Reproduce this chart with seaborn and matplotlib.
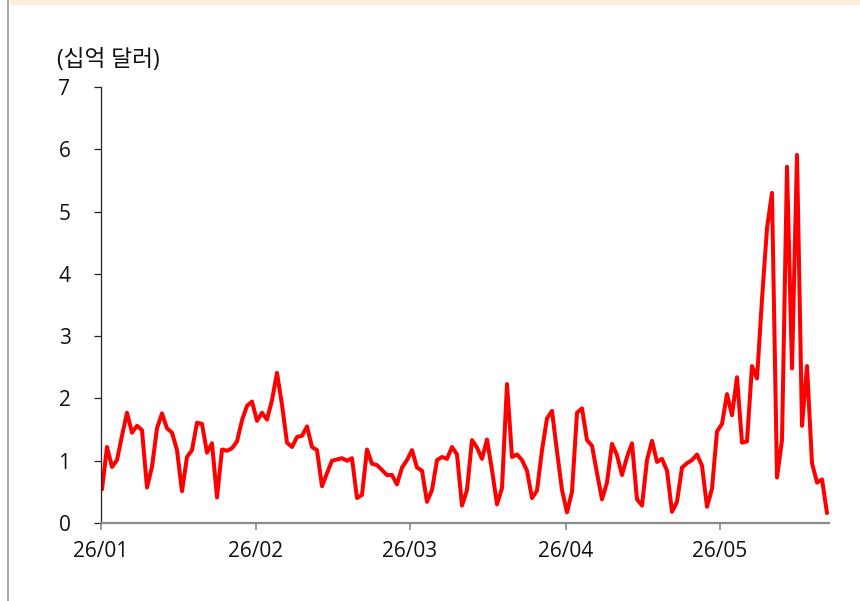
import numpy as np
import pandas as pd
import matplotlib
matplotlib.use("Agg")
import matplotlib.pyplot as plt
import seaborn as sns
from matplotlib.patches import Rectangle

# ---- data ----
values = [
    0.54, 1.22, 0.90, 1.01, 1.40, 1.77, 1.45, 1.56, 1.49, 0.57,
    0.90, 1.52, 1.76, 1.52, 1.45, 1.17, 0.51, 1.06, 1.17, 1.61,
    1.59, 1.13, 1.28, 0.41,
    1.18, 1.16, 1.20, 1.31, 1.65, 1.88, 1.95, 1.64, 1.77, 1.66,
    1.97, 2.41, 1.90, 1.29, 1.22, 1.38, 1.40, 1.55, 1.22, 1.17,
    0.59, 0.80, 1.00, 1.02, 1.04, 1.00,
    1.04, 0.40, 0.45, 1.18, 0.95, 0.93, 0.85, 0.77, 0.77, 0.62,
    0.89, 1.01, 1.17, 0.89, 0.84, 0.34, 0.53, 1.01, 1.06, 1.03,
    1.22, 1.10, 0.28, 0.53, 1.33,
    1.21, 1.03, 1.34, 0.85, 0.30, 0.56, 2.23, 1.06, 1.10, 1.01,
    0.84, 0.40, 0.52, 1.17, 1.68, 1.80, 1.15, 0.53, 0.17, 0.50,
    1.77, 1.84, 1.33, 1.24, 0.80,
    0.38, 0.65, 1.27, 1.09, 0.77, 1.06, 1.28, 0.38, 0.28, 1.01,
    1.32, 0.98, 1.03, 0.84, 0.18, 0.34, 0.89, 0.96, 1.01, 1.10,
    0.92, 0.26, 0.55, 1.47, 1.59,
    2.07, 1.73, 2.34, 1.29, 1.31, 2.52, 2.32, 3.59, 4.73, 5.30,
    0.73, 1.33, 5.72, 2.48, 5.91, 1.56, 2.52, 0.96, 0.65, 0.70,
    0.16,
]
month_labels = ["26/01", "26/02", "26/03", "26/04", "26/05"]
y_ticks = [0, 1, 2, 3, 4, 5, 6, 7]
unit_label = "(십억 달러)"

# tick positions on the point index scale (layout)
month_pos = [-0.2, 30.8, 61.6, 92.8, 123.6]

df = pd.DataFrame({"idx": np.arange(len(values)), "value": values})

sns.set_theme(style="white")
plt.rcParams["font.family"] = ["Open Sans", "Noto Sans CJK KR", "DejaVu Sans"]

fig = plt.figure(figsize=(8.6, 6.01), dpi=100)
ax = fig.add_axes([101 / 860, 78 / 601, (829 - 101) / 860, (523 - 87) / 601])

sns.lineplot(data=df, x="idx", y="value", ax=ax, color="#FF0000",
             linewidth=2.9, estimator=None)

ax.set_xlim(-0.2, 145.4)
ax.set_ylim(0, 7)
ax.set_yticks(y_ticks)
ax.set_yticklabels([str(t) for t in y_ticks])
ax.set_xticks(month_pos)
ax.set_xticklabels(month_labels)
ax.set_xlabel("")
ax.set_ylabel("")

for s in ["top", "right"]:
    ax.spines[s].set_visible(False)
ax.spines["left"].set_color("#222222")
ax.spines["left"].set_linewidth(0.9)
ax.spines["bottom"].set_color("#8a8a8a")
ax.spines["bottom"].set_linewidth(1.6)

ax.tick_params(axis="y", direction="out", length=5, width=0.9, color="#222222",
               pad=17, labelsize=15, labelcolor="#111111", left=True)
ax.tick_params(axis="x", direction="out", length=5, width=1.2, color="#8a8a8a",
               pad=8, labelsize=15, labelcolor="#111111", bottom=True)
ax.grid(False)

fig.text(57 / 860, 1 - 60 / 601, unit_label, fontsize=16.3, color="#111111",
         va="center", ha="left")

# frame decorations of the reference
fig.add_artist(Rectangle((10 / 860, 1 - 5 / 601), 1, 5 / 601,
                         transform=fig.transFigure, color="#FDEBD9", lw=0))
fig.add_artist(Rectangle((7 / 860, 0), 2 / 860, 1,
                         transform=fig.transFigure, color="#a8a8a8", lw=0))

fig.savefig("out.png", dpi=100)
